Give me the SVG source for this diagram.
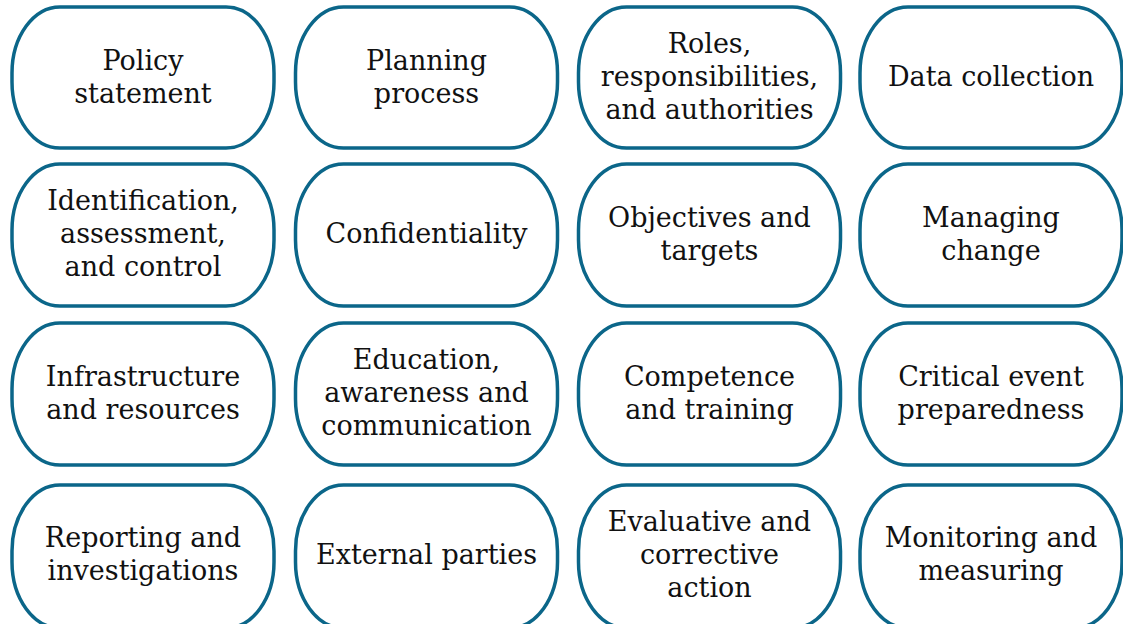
<svg xmlns="http://www.w3.org/2000/svg" width="1123" height="624" viewBox="0 0 1123 624">
<style>
.box{fill:#ffffff;stroke:#0b6689;stroke-width:3.5}
.t{font-family:"DejaVu Serif","Liberation Serif",serif;font-size:27px;fill:#111111;text-anchor:middle}
</style>
<rect width="1123" height="624" fill="#ffffff"/>
<g id="n1"><rect class="box" x="12" y="7" width="262" height="141" rx="48" ry="66"/><text class="t" x="143" y="70">Policy</text><text class="t" x="143" y="103">statement</text></g>
<g id="n2"><rect class="box" x="295.5" y="7" width="262" height="141" rx="48" ry="66"/><text class="t" x="426.5" y="70">Planning</text><text class="t" x="426.5" y="103">process</text></g>
<g id="n3"><rect class="box" x="578.5" y="7" width="262" height="141" rx="48" ry="66"/><text class="t" x="709.5" y="53">Roles,</text><text class="t" x="709.5" y="86">responsibilities,</text><text class="t" x="709.5" y="119">and authorities</text></g>
<g id="n4"><rect class="box" x="860" y="7" width="262" height="141" rx="48" ry="66"/><text class="t" x="991" y="86">Data collection</text></g>

<g id="n5"><rect class="box" x="12" y="164" width="262" height="142" rx="48" ry="66"/><text class="t" x="143" y="210">Identification,</text><text class="t" x="143" y="243">assessment,</text><text class="t" x="143" y="276">and control</text></g>
<g id="n6"><rect class="box" x="295.5" y="164" width="262" height="142" rx="48" ry="66"/><text class="t" x="426.5" y="243">Confidentiality</text></g>
<g id="n7"><rect class="box" x="578.5" y="164" width="262" height="142" rx="48" ry="66"/><text class="t" x="709.5" y="227">Objectives and</text><text class="t" x="709.5" y="260">targets</text></g>
<g id="n8"><rect class="box" x="860" y="164" width="262" height="142" rx="48" ry="66"/><text class="t" x="991" y="227">Managing</text><text class="t" x="991" y="260">change</text></g>

<g id="n9"><rect class="box" x="12" y="323" width="262" height="142" rx="48" ry="66"/><text class="t" x="143" y="386">Infrastructure</text><text class="t" x="143" y="419">and resources</text></g>
<g id="n10"><rect class="box" x="295.5" y="323" width="262" height="142" rx="48" ry="66"/><text class="t" x="426.5" y="369">Education,</text><text class="t" x="426.5" y="402">awareness and</text><text class="t" x="426.5" y="435">communication</text></g>
<g id="n11"><rect class="box" x="578.5" y="323" width="262" height="142" rx="48" ry="66"/><text class="t" x="709.5" y="386">Competence</text><text class="t" x="709.5" y="419">and training</text></g>
<g id="n12"><rect class="box" x="860" y="323" width="262" height="142" rx="48" ry="66"/><text class="t" x="991" y="386">Critical event</text><text class="t" x="991" y="419">preparedness</text></g>

<g id="n13"><rect class="box" x="12" y="485" width="262" height="143" rx="48" ry="66"/><text class="t" x="143" y="547">Reporting and</text><text class="t" x="143" y="580">investigations</text></g>
<g id="n14"><rect class="box" x="295.5" y="485" width="262" height="143" rx="48" ry="66"/><text class="t" x="426.5" y="564">External parties</text></g>
<g id="n15"><rect class="box" x="578.5" y="485" width="262" height="143" rx="48" ry="66"/><text class="t" x="709.5" y="531">Evaluative and</text><text class="t" x="709.5" y="564">corrective</text><text class="t" x="709.5" y="597">action</text></g>
<g id="n16"><rect class="box" x="860" y="485" width="262" height="143" rx="48" ry="66"/><text class="t" x="991" y="547">Monitoring and</text><text class="t" x="991" y="580">measuring</text></g>
<g id="connectors"></g>
</svg>
